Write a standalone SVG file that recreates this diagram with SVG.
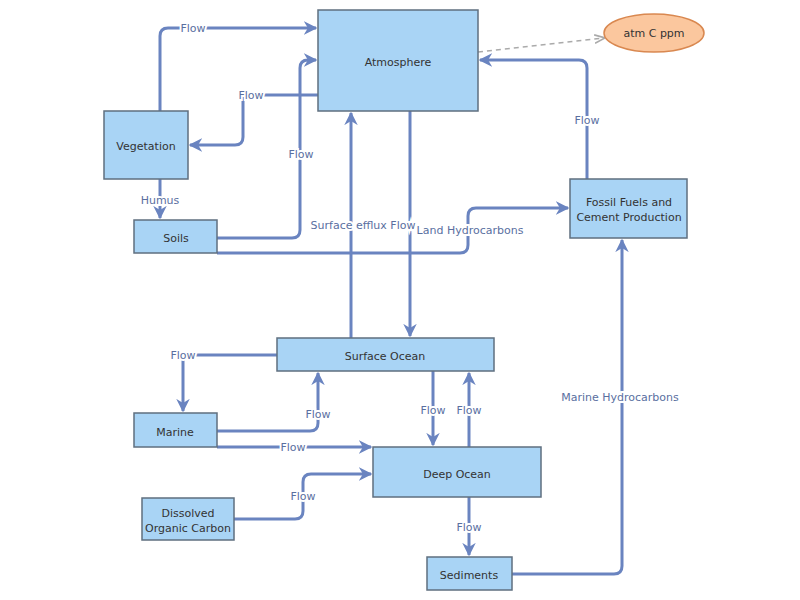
<svg xmlns="http://www.w3.org/2000/svg" width="800" height="600" viewBox="0 0 800 600">
<style>
.n{fill:#a9d4f5;stroke:#5f6f7f;stroke-width:1.5}
.t{font-family:"DejaVu Sans",sans-serif;font-size:11px;fill:#333;text-anchor:middle;dominant-baseline:central}
.c{fill:none;stroke:#6a84c0;stroke-width:3;stroke-linejoin:round}
.l{font-family:"DejaVu Sans",sans-serif;font-size:11px;fill:#5a6f9f;text-anchor:middle;dominant-baseline:central;stroke:#fff;stroke-width:4;paint-order:stroke}
</style>
<defs>
<marker id="a" viewBox="0 0 10 10" refX="9" refY="5" markerWidth="4.5" markerHeight="4.5" markerUnits="strokeWidth" orient="auto"><path d="M0,0L10,5L0,10L3,5Z" fill="#6a84c0"/></marker>
<marker id="g" viewBox="0 0 10 10" refX="9" refY="5" markerWidth="7" markerHeight="7" orient="auto"><path d="M0,1L10,5L0,9" fill="none" stroke="#aaa" stroke-width="1.5"/></marker>
</defs>
<rect width="800" height="600" fill="#fff"/>
<g id="connectors">
<path class="c" marker-end="url(#a)" d="M160,111V36Q160,28 168,28H316"/>
<path class="c" marker-end="url(#a)" d="M318,95H243V137Q243,145 235,145H190"/>
<path class="c" marker-end="url(#a)" d="M217,238H292Q300,238 300,230V68Q300,60 308,60H316"/>
<path class="c" marker-end="url(#a)" d="M160,179V218"/>
<path class="c" marker-end="url(#a)" d="M217,253H460Q468,253 468,245V216Q468,208 476,208H568"/>
<path class="c" marker-end="url(#a)" d="M351,338V113"/>
<path class="c" marker-end="url(#a)" d="M410,111V336"/>
<path class="c" marker-end="url(#a)" d="M587,179V68Q587,60 579,60H480"/>
<path d="M478,52L604,38" fill="none" stroke="#aaa" stroke-width="1.5" stroke-dasharray="5,4" marker-end="url(#g)"/>
<path class="c" marker-end="url(#a)" d="M277,355H183V411"/>
<path class="c" marker-end="url(#a)" d="M217,431H310Q318,431 318,423V373"/>
<path class="c" marker-end="url(#a)" d="M217,447H371"/>
<path class="c" marker-end="url(#a)" d="M234,519H295Q303,519 303,511V482Q303,474 311,474H371"/>
<path class="c" marker-end="url(#a)" d="M433,371V445"/>
<path class="c" marker-end="url(#a)" d="M469,447V373"/>
<path class="c" marker-end="url(#a)" d="M469,497V555"/>
<path class="c" marker-end="url(#a)" d="M512,574H614Q622,574 622,566V240"/>
<text class="l" x="193" y="28">Flow</text>
<text class="l" x="251" y="95">Flow</text>
<text class="l" x="301" y="154">Flow</text>
<text class="l" x="160" y="200">Humus</text>
<text class="l" x="470" y="230">Land Hydrocarbons</text>
<text class="l" x="363" y="225">Surface efflux Flow</text>
<text class="l" x="587" y="120">Flow</text>
<text class="l" x="183" y="355">Flow</text>
<text class="l" x="318" y="414">Flow</text>
<text class="l" x="293" y="447">Flow</text>
<text class="l" x="303" y="496">Flow</text>
<text class="l" x="433" y="410">Flow</text>
<text class="l" x="469" y="410">Flow</text>
<text class="l" x="469" y="527">Flow</text>
<text class="l" x="620" y="397">Marine Hydrocarbons</text>
</g>
<g id="atmosphere"><rect class="n" x="318" y="10" width="160" height="101"/><text class="t" x="398" y="62">Atmosphere</text></g>
<g id="atmc"><ellipse cx="654" cy="33" rx="50" ry="19" fill="#fbc79e" stroke="#d98850" stroke-width="1.5"/><text class="t" x="654" y="33">atm C ppm</text></g>
<g id="vegetation"><rect class="n" x="104" y="111" width="84" height="68"/><text class="t" x="146" y="146">Vegetation</text></g>
<g id="soils"><rect class="n" x="134" y="220" width="83" height="33"/><text class="t" x="176" y="238">Soils</text></g>
<g id="fossil"><rect class="n" x="570" y="179" width="117" height="59"/><text class="t" x="629" y="202">Fossil Fuels and</text><text class="t" x="629" y="217">Cement Production</text></g>
<g id="surface"><rect class="n" x="277" y="338" width="217" height="33"/><text class="t" x="385" y="356">Surface Ocean</text></g>
<g id="marine"><rect class="n" x="134" y="413" width="83" height="34"/><text class="t" x="175" y="432">Marine</text></g>
<g id="deep"><rect class="n" x="373" y="447" width="168" height="50"/><text class="t" x="457" y="474">Deep Ocean</text></g>
<g id="doc"><rect class="n" x="142" y="498" width="92" height="42"/><text class="t" x="188" y="513">Dissolved</text><text class="t" x="188" y="528">Organic Carbon</text></g>
<g id="sediments"><rect class="n" x="427" y="557" width="85" height="33"/><text class="t" x="469" y="575">Sediments</text></g>
</svg>
